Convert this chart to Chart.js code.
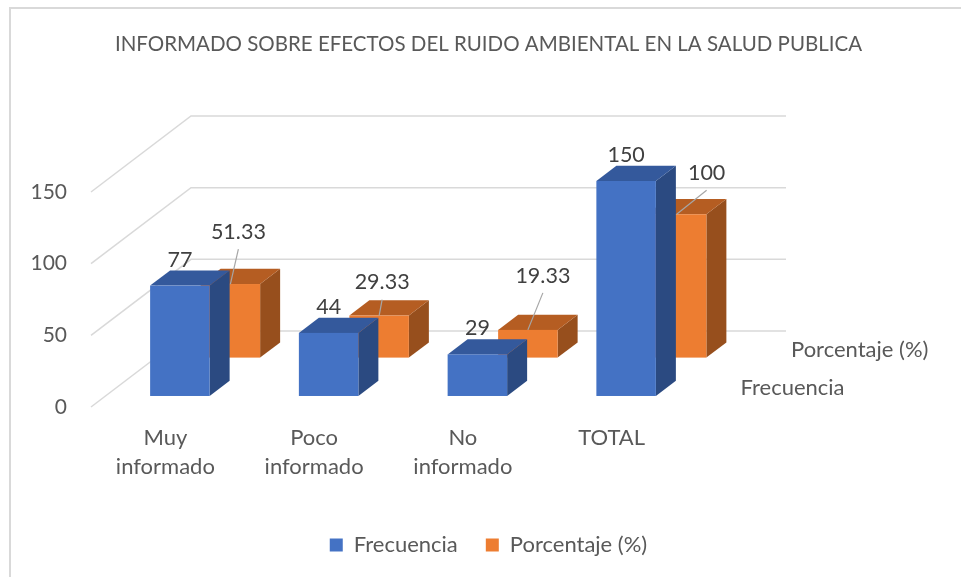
<!DOCTYPE html>
<html lang="es">
<head>
<meta charset="utf-8">
<title>Informado sobre efectos del ruido ambiental</title>
<script src="https://cdn.jsdelivr.net/npm/chart.js@4.4.1/dist/chart.umd.min.js"></script>
<style>
  html, body { margin: 0; padding: 0; background: #fff; overflow: hidden; }
</style>
</head>
<body>
<canvas id="grafico" width="961" height="577"></canvas>
<script>
// ================================================================
//  DATOS
// ================================================================
const titulo = 'INFORMADO SOBRE EFECTOS DEL RUIDO AMBIENTAL EN LA SALUD PUBLICA';
const categorias = [['Muy', 'informado'], ['Poco', 'informado'], ['No', 'informado'], 'TOTAL'];
const nombresSeries = ['Frecuencia', 'Porcentaje (%)'];
const frecuencia = [77, 44, 29, 150];
const porcentaje = [51.33, 29.33, 19.33, 100];
const ticksEjeY = [0, 50, 100, 150];

// ================================================================
//  ESTILO 3D
// ================================================================
const FUENTE = 'Lato, "Liberation Sans", sans-serif';
const GRIS_TEXTO = '#595959';
const fondo = { dx: 100, dy: -76 };      // desplazamiento hasta la pared del fondo
const colores = [
    { frente: '#4472C4', arriba: '#34599C', lado: '#2B4A81' },   // Frecuencia
    { frente: '#ED7D31', arriba: '#B55D22', lado: '#974F1D' }    // Porcentaje
];
// profundidad de cada serie como fracción del fondo: [cara delantera, cara trasera]
const profundidades = [[0.145, 0.345], [0.65, 0.85]];
const anchoBarra = 0.4;
// las etiquetas de porcentaje están movidas a mano en el original
const desplazPct = [[8, -52], [3, -33], [15, -54], [30, -41]];

function poligono(ctx, puntos, color) {
    ctx.beginPath();
    puntos.forEach(([px, py], k) => k ? ctx.lineTo(px, py) : ctx.moveTo(px, py));
    ctx.closePath();
    ctx.fillStyle = color;
    ctx.fill();
}

// cara delantera de la barra (centro, ancho, base y tope) más el fondo de la caja
function geometria(x, y, i, v, serie) {
    const [p0, p1] = profundidades[serie];
    const cw = x.getPixelForValue(1) - x.getPixelForValue(0);
    return {
        cx: x.getPixelForValue(i) + fondo.dx * p0,
        w: cw * anchoBarra,
        base: y.getPixelForValue(0) + fondo.dy * p0,
        tope: y.getPixelForValue(v) + fondo.dy * p0,
        px: fondo.dx * (p1 - p0),
        py: fondo.dy * (p1 - p0)
    };
}

function dibujarCaja(ctx, g, col) {
    const l = g.cx - g.w / 2, r = g.cx + g.w / 2;
    poligono(ctx, [[r, g.tope], [r + g.px, g.tope + g.py], [r + g.px, g.base + g.py], [r, g.base]], col.lado);
    poligono(ctx, [[l, g.tope], [r, g.tope], [r + g.px, g.tope + g.py], [l + g.px, g.tope + g.py]], col.arriba);
    ctx.fillStyle = col.frente;
    ctx.fillRect(l, g.tope, g.w, g.base - g.tope);
}

const barras3d = {
    id: 'barras3d',
    beforeDraw(chart) {
        const ctx = chart.ctx;
        ctx.save();
        ctx.fillStyle = '#fff';
        ctx.fillRect(0, 0, chart.width, chart.height);
        // marco del gráfico (sólo se ven los bordes superior e izquierdo)
        ctx.strokeStyle = '#d9d9d9';
        ctx.lineWidth = 2;
        ctx.strokeRect(10, 8, chart.width + 40, chart.height + 40);
        ctx.restore();
    },
    beforeDatasetsDraw(chart) {
        const { ctx, chartArea: area, scales: { x, y } } = chart;
        ctx.save();

        // Líneas de división: suelo lateral + pared del fondo
        ctx.strokeStyle = '#d9d9d9';
        ctx.lineWidth = 1.5;
        ticksEjeY.forEach(v => {
            const py = y.getPixelForValue(v);
            ctx.beginPath();
            ctx.moveTo(area.left, py);
            ctx.lineTo(area.left + fondo.dx, py + fondo.dy);
            ctx.lineTo(area.right + fondo.dx, py + fondo.dy);
            ctx.stroke();
        });

        // Barras: primero la serie del fondo
        [1, 0].forEach(s => {
            chart.data.datasets[s].data.forEach((v, i) => {
                dibujarCaja(ctx, geometria(x, y, i, v, s), colores[s]);
            });
        });

        ctx.restore();
        return false;
    },
    afterDraw(chart) {
        const { ctx, chartArea: area, scales: { x, y } } = chart;
        ctx.save();
        ctx.font = '21.5px ' + FUENTE;
        ctx.textAlign = 'center';
        ctx.textBaseline = 'middle';

        // Etiquetas de Frecuencia
        ctx.fillStyle = '#404040';
        chart.data.datasets[0].data.forEach((v, i) => {
            const g = geometria(x, y, i, v, 0);
            ctx.fillText(String(v), g.cx, g.tope - 26);
        });

        // Etiquetas de Porcentaje con línea guía
        chart.data.datasets[1].data.forEach((v, i) => {
            const g = geometria(x, y, i, v, 1);
            const [ox, oy] = desplazPct[i];
            ctx.strokeStyle = '#a6a6a6';
            ctx.lineWidth = 1.2;
            ctx.beginPath();
            ctx.moveTo(g.cx + ox, g.tope + oy + 17);
            ctx.lineTo(g.cx, g.tope);
            ctx.stroke();
            ctx.fillStyle = '#404040';
            ctx.fillText(v.toFixed(2).replace(/\.00$/, ''), g.cx + ox, g.tope + oy);
        });

        // Eje de profundidad (nombres de serie)
        ctx.font = '22px ' + FUENTE;
        ctx.textAlign = 'left';
        ctx.fillStyle = GRIS_TEXTO;
        nombresSeries.forEach((nombre, s) => {
            const [p0, p1] = profundidades[s];
            const pm = (p0 + p1) / 2;
            ctx.fillText(nombre, area.right + fondo.dx * pm + 30, y.getPixelForValue(0) + fondo.dy * pm);
        });
        ctx.restore();
    }
};

new Chart(document.getElementById('grafico'), {
    type: 'bar',
    data: {
        labels: categorias,
        datasets: [
            { label: nombresSeries[0], data: frecuencia, backgroundColor: colores[0].frente },
            { label: nombresSeries[1], data: porcentaje, backgroundColor: colores[1].frente }
        ]
    },
    options: {
        responsive: false,
        animation: false,
        devicePixelRatio: 1,
        events: [],
        layout: { padding: { left: 16, right: 0, top: 0, bottom: 11 } },
        plugins: {
            title: {
                display: true,
                text: titulo,
                color: GRIS_TEXTO,
                font: { family: FUENTE, size: 20.5, weight: 'normal', lineHeight: 1.2 },
                padding: { top: 32, bottom: 135.4 }
            },
            legend: {
                position: 'bottom',
                labels: {
                    color: GRIS_TEXTO,
                    font: { family: FUENTE, size: 22 },
                    boxWidth: 13,
                    boxHeight: 13,
                    padding: 28
                }
            },
            tooltip: { enabled: false }
        },
        scales: {
            x: {
                grid: { display: false, drawTicks: false },
                border: { display: false },
                ticks: {
                    color: GRIS_TEXTO,
                    font: { family: FUENTE, size: 22, lineHeight: 1.32 },
                    padding: 16,
                    maxRotation: 0,
                    autoSkip: false
                },
                afterFit: s => { s.height = 99; }
            },
            y: {
                min: 0,
                max: 150,
                afterBuildTicks: s => { s.ticks = ticksEjeY.map(v => ({ value: v })); },
                grid: { display: false, drawTicks: false },
                border: { display: false },
                ticks: { color: GRIS_TEXTO, font: { family: FUENTE, size: 21 }, padding: 24 },
                afterFit: s => { s.width = 75; }
            },
            margen: {
                type: 'linear',
                position: 'right',
                grid: { display: false, drawTicks: false },
                border: { display: false },
                ticks: { display: false },
                afterFit: s => { s.width = 275; }
            }
        }
    },
    plugins: [barras3d]
});
</script>
</body>
</html>
